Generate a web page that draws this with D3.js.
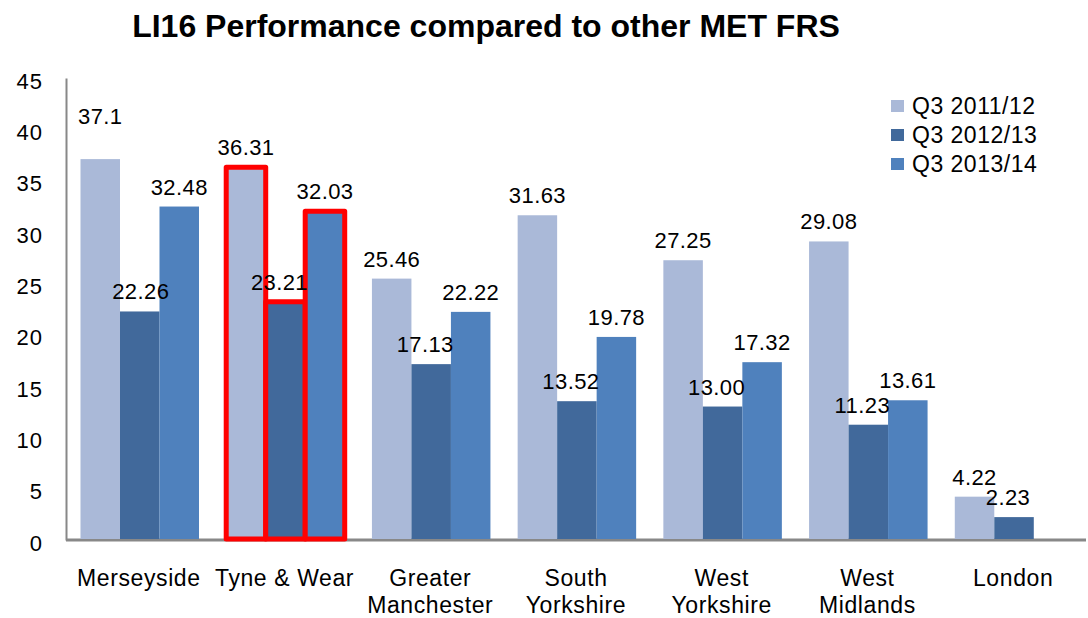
<!DOCTYPE html>
<html>
<head>
<meta charset="utf-8">
<script src="https://cdnjs.cloudflare.com/ajax/libs/d3/7.8.5/d3.min.js"></script>
<style>
  html, body { margin: 0; padding: 0; background: #fff; }
  svg { display: block; font-family: "Liberation Sans", Arial, sans-serif; }
</style>
</head>
<body>
<svg id="chart" width="1088" height="618"></svg>
<script>
// ---- data ----
const title = "LI16 Performance compared to other MET FRS";
const categories = ["Merseyside", "Tyne & Wear", "Greater\nManchester", "South\nYorkshire", "West\nYorkshire", "West\nMidlands", "London"];
const seriesNames = ["Q3 2011/12", "Q3 2012/13", "Q3 2013/14"];
const q3_2011_12 = ["37.1", "36.31", "25.46", "31.63", "27.25", "29.08", "4.22"];
const q3_2012_13 = ["22.26", "23.21", "17.13", "13.52", "13.00", "11.23", "2.23"];
const q3_2013_14 = ["32.48", "32.03", "22.22", "19.78", "17.32", "13.61", null];
const yTicks = [0, 5, 10, 15, 20, 25, 30, 35, 40, 45];
const highlighted = "Tyne & Wear";

// ---- styles ----
const colors = ["#AAB9D8", "#41699B", "#4F81BD"];
const labelDx = [0, -6, 0];
const labelDxOverride = { "Merseyside|1": 1 };
const labelLift = { "Merseyside|0": 23 };

const svg = d3.select("#chart");
const plotLeft = 66, plotRight = 1086, plotTop = 78, plotBottom = 540;

const x0 = d3.scaleBand().domain(categories).range([plotLeft, plotRight]).padding(0);
const x1 = d3.scaleBand().domain(seriesNames).range([14.5, 133]).padding(0);
const y = d3.scaleLinear().domain([0, 45]).range([plotBottom, plotTop]);

const seriesValues = [q3_2011_12, q3_2012_13, q3_2013_14];
const bars = [];
categories.forEach((c, i) => {
  seriesNames.forEach((s, j) => {
    const v = seriesValues[j][i];
    if (v !== null) bars.push({ cat: c, series: s, si: j, text: v, value: +v });
  });
});

// title
svg.append("text")
  .attr("x", 486).attr("y", 37)
  .attr("text-anchor", "middle")
  .attr("font-size", 32).attr("font-weight", "bold")
  .attr("fill", "#000")
  .text(title);

// y axis
const yAxis = svg.append("g")
  .attr("transform", `translate(${plotLeft},0)`)
  .call(d3.axisLeft(y).tickValues(yTicks).tickSize(0).tickPadding(23).tickFormat(d3.format("d")));
yAxis.select(".domain").attr("stroke", "#888").attr("stroke-width", 2);
yAxis.selectAll(".tick text")
  .attr("font-size", 22).attr("fill", "#000")
  .attr("letter-spacing", 1)
  .attr("font-family", "Liberation Sans, Arial, sans-serif")
  .attr("transform", "translate(0,3)");

// baseline
svg.append("line")
  .attr("x1", plotLeft).attr("x2", plotRight)
  .attr("y1", y(0)).attr("y2", y(0))
  .attr("stroke", "#888").attr("stroke-width", 3);

// bars
const g = svg.append("g");
g.selectAll("rect.bar").data(bars).join("rect")
  .attr("class", "bar")
  .attr("x", d => x0(d.cat) + x1(d.series))
  .attr("width", x1.bandwidth())
  .attr("y", d => y(d.value))
  .attr("height", d => y(0) - y(d.value) - 1)
  .attr("fill", d => colors[d.si])
  .attr("stroke", d => d.cat === highlighted ? "#FF0000" : "none")
  .attr("stroke-width", d => d.cat === highlighted ? 5 : 0)
  .attr("stroke-linejoin", "round");

// data labels
g.selectAll("text.lbl").data(bars).join("text")
  .attr("class", "lbl")
  .attr("x", d => {
    const key = d.cat + "|" + d.si;
    const dx = key in labelDxOverride ? labelDxOverride[key] : labelDx[d.si];
    return x0(d.cat) + x1(d.series) + x1.bandwidth() / 2 + dx;
  })
  .attr("y", d => y(d.value) - 12 - (labelLift[d.cat + "|" + d.si] || 0))
  .attr("text-anchor", "middle")
  .attr("font-size", 22).attr("fill", "#000")
  .attr("letter-spacing", 0.4)
  .text(d => d.text);

// category labels
const cg = svg.append("g");
categories.forEach(c => {
  const t = cg.append("text")
    .attr("x", x0(c) + x0.bandwidth() / 2)
    .attr("y", 586)
    .attr("text-anchor", "middle")
    .attr("font-size", 23).attr("fill", "#000")
    .attr("letter-spacing", 0.6);
  c.split("\n").forEach((line, k) => {
    t.append("tspan")
      .attr("x", x0(c) + x0.bandwidth() / 2)
      .attr("dy", k === 0 ? 0 : 27)
      .text(line);
  });
});

// legend
const legend = svg.append("g");
seriesNames.forEach((s, j) => {
  const cy = 106 + j * 29;
  legend.append("rect")
    .attr("x", 891).attr("y", cy - 6)
    .attr("width", 13).attr("height", 12)
    .attr("fill", colors[j]);
  legend.append("text")
    .attr("x", 912).attr("y", cy + 8)
    .attr("font-size", 23).attr("fill", "#000")
    .attr("letter-spacing", 0.5)
    .text(s);
});
</script>
</body>
</html>
